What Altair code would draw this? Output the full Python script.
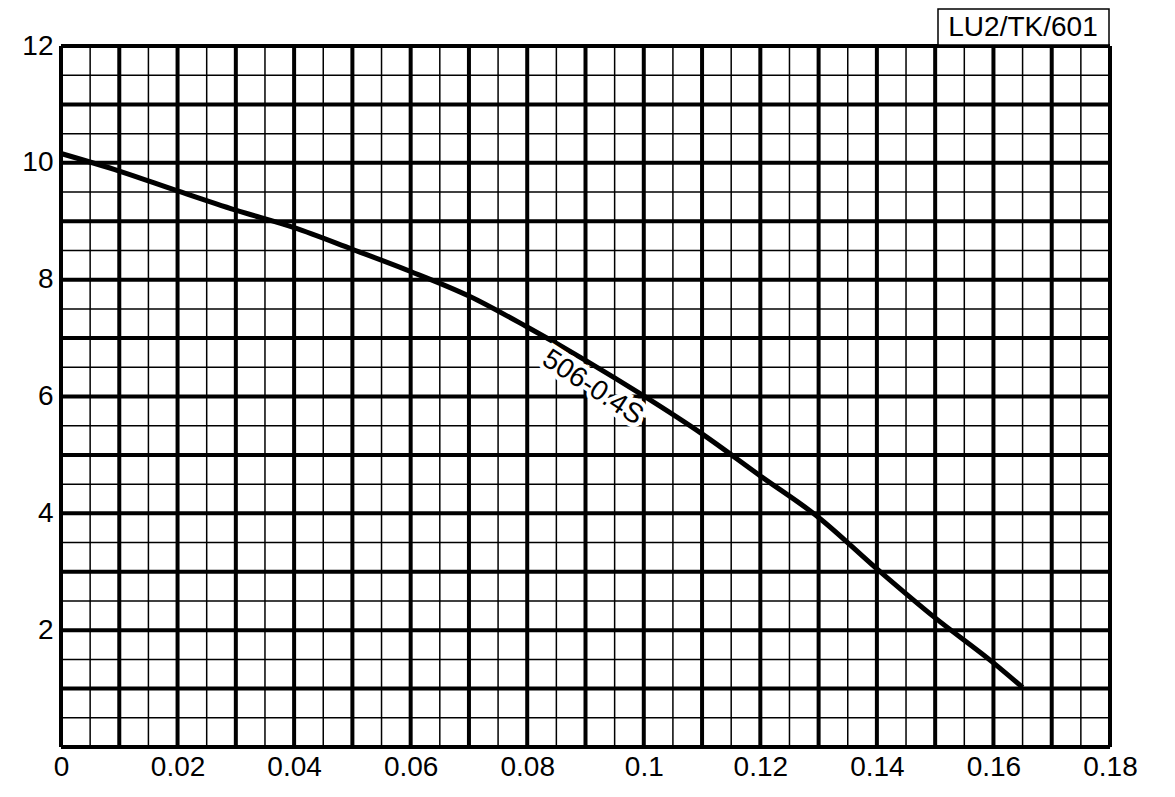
import altair as alt
import pandas as pd

# curve data (flow, head)
flow = [0.0, 0.01, 0.02, 0.03, 0.04, 0.05, 0.06, 0.07, 0.08, 0.09, 0.10,
        0.11, 0.12, 0.13, 0.14, 0.15, 0.16, 0.165]
head = [10.16, 9.86, 9.52, 9.19, 8.89, 8.52, 8.14, 7.72, 7.19, 6.62, 6.01,
        5.36, 4.64, 3.93, 3.05, 2.21, 1.44, 1.02]

curve_label = ["506-0.4S"]
label_x = [0.0912]
label_y = [6.15]
title_text = ["LU2/TK/601"]

x_ticks = [round(i * 0.005, 3) for i in range(37)]
y_ticks = [i * 0.5 for i in range(25)]
x_labels = [round(i * 0.02, 2) for i in range(10)]
y_labels = [2, 4, 6, 8, 10, 12]

W, H = 1049, 701
FONT = "Liberation Sans"
FS = 28

df = pd.DataFrame({"q": flow, "h": head})
lab = pd.DataFrame({"q": label_x, "h": label_y, "t": curve_label})
tdf = pd.DataFrame({"t": title_text})
xg = pd.DataFrame({"q": x_ticks})
xg["w"] = [4 if round(v * 1000) % 10 == 0 else 1.5 for v in x_ticks]
yg = pd.DataFrame({"h": y_ticks})
yg["w"] = [4 if v % 1 == 0 else 1.5 for v in y_ticks]

xscale = alt.Scale(domain=[0, 0.18], nice=False, zero=False)
yscale = alt.Scale(domain=[0, 12], nice=False, zero=False)

xaxis = alt.Axis(
    values=x_labels, title=None, format="~g", grid=False,
    ticks=False, domain=False, labelOverlap=False, labelFlush=False,
    labelPadding=6, labelFontSize=FS, labelColor="black", labelFont=FONT,
)
yaxis = alt.Axis(
    values=y_labels, title=None, format="d", grid=False,
    ticks=False, domain=False, labelOverlap=False, labelFlush=False,
    labelPadding=8, labelFontSize=FS, labelColor="black", labelFont=FONT,
)

X = alt.X("q:Q", scale=xscale, axis=xaxis)
Y = alt.Y("h:Q", scale=yscale, axis=yaxis)

vgrid = alt.Chart(xg).mark_rule(color="black").encode(
    x=X, strokeWidth=alt.StrokeWidth("w:Q", scale=None),
)
hgrid = alt.Chart(yg).mark_rule(color="black").encode(
    y=Y, strokeWidth=alt.StrokeWidth("w:Q", scale=None),
)

line = alt.Chart(df).mark_line(color="black", strokeWidth=5, interpolate="monotone", strokeCap="butt").encode(
    x=X, y=Y,
)

halo = alt.Chart(lab).mark_text(
    font=FONT, fontSize=FS, angle=33, align="center", baseline="middle",
    stroke="white", strokeWidth=9, color="white",
).encode(x=X, y=Y, text="t:N")

txt = alt.Chart(lab).mark_text(
    font=FONT, fontSize=FS, angle=33, align="center", baseline="middle", color="black",
).encode(x=X, y=Y, text="t:N")

box = alt.Chart(tdf).mark_rect(fill="white", stroke="black", strokeWidth=1.5).encode(
    x=alt.value(877), x2=alt.value(1048), y=alt.value(-37), y2=alt.value(-1),
)
box_text = alt.Chart(tdf).mark_text(
    font=FONT, fontSize=FS, align="center", baseline="middle", color="black",
).encode(x=alt.value(962), y=alt.value(-18), text="t:N")

chart = alt.layer(vgrid, hgrid, line, halo, txt, box, box_text).properties(
    width=W, height=H,
    padding={"left": 13, "top": 0, "right": 5, "bottom": 5},
).configure_view(stroke="black", strokeWidth=5).configure(background="white")

chart.save("out.html", embed_options={"renderer": "svg", "actions": False})
